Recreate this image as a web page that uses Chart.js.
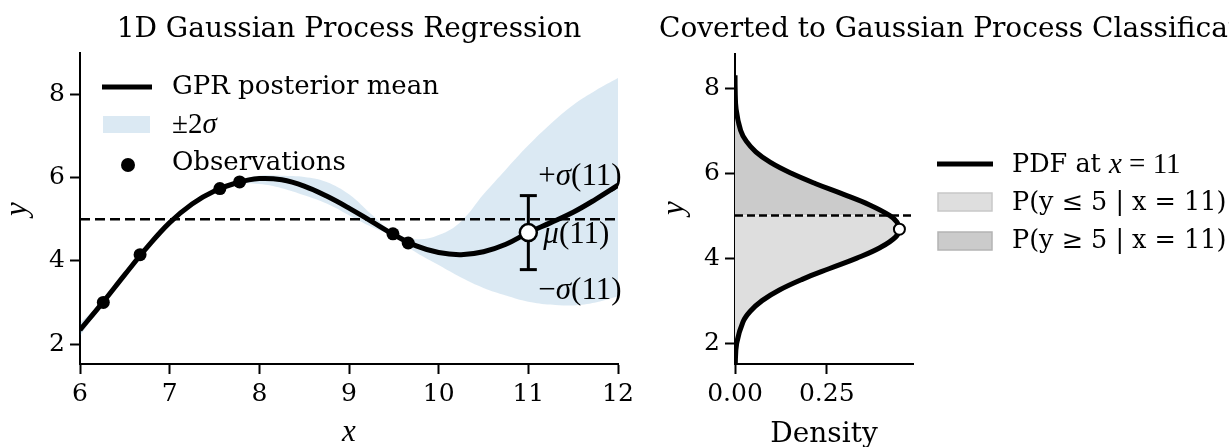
<!DOCTYPE html>
<html>
<head>
<meta charset="utf-8">
<script src="https://cdn.jsdelivr.net/npm/chart.js@4.4.1/dist/chart.umd.min.js"></script>
<style>
  body { margin: 0; background: #fff; }
  #wrap { position: relative; width: 1229px; height: 447px; overflow: hidden; }
  #gpr { position: absolute; left: 0; top: 0; }
  #pdf { position: absolute; left: 640px; top: 0; }
</style>
</head>
<body>
<div id="wrap">
  <canvas id="gpr" width="640" height="447"></canvas>
  <canvas id="pdf" width="589" height="447"></canvas>
</div>
<script>
// values
const gridX     = [6.0, 6.25, 6.5, 6.75, 7.0, 7.25, 7.5, 7.75, 8.0, 8.25, 8.5, 8.75, 9.0, 9.25, 9.5, 9.75, 10.0, 10.25, 10.5, 10.75, 11.0, 11.25, 11.5, 11.75, 12.0];
const meanY     = [2.34, 2.99, 3.67, 4.33, 4.92, 5.37, 5.68, 5.88, 5.98, 5.95, 5.80, 5.56, 5.27, 4.95, 4.63, 4.36, 4.20, 4.15, 4.22, 4.40, 4.68, 4.92, 5.17, 5.48, 5.82];
const bandLower = [2.20, 2.94, 3.62, 4.28, 4.87, 5.32, 5.63, 5.84, 5.85, 5.75, 5.58, 5.38, 5.10, 4.82, 4.58, 4.20, 3.90, 3.60, 3.35, 3.17, 3.02, 2.95, 2.93, 3.00, 3.15];
const bandUpper = [2.50, 3.04, 3.72, 4.38, 4.97, 5.42, 5.73, 5.93, 6.05, 6.05, 6.02, 5.90, 5.60, 5.12, 4.68, 4.52, 4.62, 4.95, 5.60, 6.20, 6.78, 7.30, 7.75, 8.10, 8.40];
const obsX = [6.26, 6.67, 7.56, 7.78, 9.49, 9.66];
const obsY = [3.00, 4.15, 5.74, 5.90, 4.65, 4.43];
const queryX = 11;
const queryMu = 4.68;
const querySigma = 0.89;
const threshold = 5;
const gprXTicks = [6, 7, 8, 9, 10, 11, 12];
const yTicks = [2, 4, 6, 8];

const pdfY       = [1.1, 1.5, 2.0, 2.5, 2.75, 3.0, 3.25, 3.5, 3.75, 4.0, 4.25, 4.5, 4.69, 4.85, 5.0, 5.25, 5.5, 5.75, 6.0, 6.25, 6.5, 6.75, 7.0, 7.5, 8.0, 8.3];
const pdfDensity = [0.0001, 0.0007, 0.0047, 0.0217, 0.0416, 0.0738, 0.121, 0.183, 0.256, 0.332, 0.396, 0.438, 0.448, 0.441, 0.422, 0.367, 0.296, 0.220, 0.152, 0.0965, 0.0566, 0.0307, 0.0154, 0.0031, 0.0004, 0.0001];
const densityTicks = [0, 0.25];
const densityTickLabels = ['0.00', '0.25'];

const SERIF = '"DejaVu Serif", serif';
const MATHF = '"Liberation Serif", serif';
const F_TITLE = '28px ' + SERIF;
const F_LEG = '26px ' + SERIF;
const F_LEG2 = '25.5px ' + SERIF;
const F_LEG_MI = 'italic 29px ' + MATHF;
const F_LEG_MR = '29px ' + MATHF;
const F_ANN_MI = 'italic 31px ' + MATHF;
const F_ANN_MR = '31px ' + MATHF;
const F_AXIS_MI = 'italic 31px ' + MATHF;
const BAND = 'rgba(31, 119, 180, 0.16)';
const LIGHT = 'rgb(222, 222, 222)';
const DARK = 'rgb(203, 203, 203)';

// draws a line of text made of runs in different fonts
function drawRuns(ctx, runs, x, y, align) {
  let total = 0;
  runs.forEach(r => { ctx.font = r[1]; total += ctx.measureText(r[0]).width; });
  let cx = align === 'center' ? x - total / 2 : x;
  ctx.textAlign = 'left';
  ctx.textBaseline = 'middle';
  runs.forEach(r => {
    ctx.font = r[1];
    ctx.fillText(r[0], cx, y);
    cx += ctx.measureText(r[0]).width;
  });
}

function axisOpts(min, max, ticks, size, isX) {
  return {
    type: 'linear', min: min, max: max,
    afterBuildTicks: s => { s.ticks = ticks.map(v => ({ value: v })); },
    afterFit: s => { if (isX) s.height = size; else s.width = size; },
    grid: { drawOnChartArea: false, drawTicks: true, tickLength: 10, tickWidth: 2, tickColor: '#000' },
    border: { display: true, color: '#000', width: 2 },
    ticks: { color: '#000', font: { family: 'DejaVu Serif', size: 25 }, padding: isX ? 5 : 5, maxRotation: 0, autoSkip: false }
  };
}

const pts = (xs, ys) => xs.map((x, i) => ({ x: x, y: ys[i] }));

// ---------- left: GPR ----------
const gprText = {
  id: 'gprText',
  afterDatasetsDraw(chart) {
    const { ctx, chartArea: a, scales: { x, y } } = chart;
    ctx.save();
    ctx.fillStyle = '#000';
    drawRuns(ctx, [['1D Gaussian Process Regression', F_TITLE]], (a.left + a.right) / 2, 30, 'center');
    drawRuns(ctx, [['x', F_AXIS_MI]], (a.left + a.right) / 2, 433, 'center');

    // annotations at x = 11
    const px = x.getPixelForValue(queryX);
    drawRuns(ctx, [['+', F_ANN_MR], ['σ', F_ANN_MI], ['(11)', F_ANN_MR]], px + 10, y.getPixelForValue(queryMu + querySigma) - 19, 'left');
    drawRuns(ctx, [['μ', F_ANN_MI], ['(11)', F_ANN_MR]], px + 15, y.getPixelForValue(queryMu) + 2, 'left');
    drawRuns(ctx, [['−', F_ANN_MR], ['σ', F_ANN_MI], ['(11)', F_ANN_MR]], px + 10, y.getPixelForValue(queryMu - querySigma) + 21, 'left');

    // legend
    ctx.strokeStyle = '#000';
    ctx.lineWidth = 5;
    ctx.beginPath(); ctx.moveTo(102, 87); ctx.lineTo(152, 87); ctx.stroke();
    ctx.fillStyle = BAND;
    ctx.fillRect(103, 116, 47, 17);
    ctx.fillStyle = '#000';
    ctx.beginPath(); ctx.arc(128, 165, 7, 0, Math.PI * 2); ctx.fill();
    drawRuns(ctx, [['GPR posterior mean', F_LEG]], 172, 87, 'left');
    drawRuns(ctx, [['±2', F_LEG_MR], ['σ', F_LEG_MI]], 172, 125, 'left');
    drawRuns(ctx, [['Observations', F_LEG]], 172, 163, 'left');

    ctx.translate(18, 209);
    ctx.rotate(-Math.PI / 2);
    drawRuns(ctx, [['y', F_AXIS_MI]], 0, 0, 'center');
    ctx.restore();
  }
};

new Chart(document.getElementById('gpr'), {
  type: 'line',
  data: {
    datasets: [
      { data: pts(gridX, bandLower), borderWidth: 0, pointRadius: 0, tension: 0.4, fill: false, order: 6 },
      { data: pts(gridX, bandUpper), borderWidth: 0, pointRadius: 0, tension: 0.4, fill: 0, backgroundColor: BAND, order: 5 },
      { data: [{ x: gprXTicks[0], y: threshold }, { x: gprXTicks[gprXTicks.length - 1], y: threshold }],
        borderColor: '#000', borderWidth: 2.5, borderDash: [10, 5], pointRadius: 0, order: 4 },
      { data: pts(gridX, meanY), borderColor: '#000', borderWidth: 5, pointRadius: 0, tension: 0.4, order: 3 },
      { data: pts(obsX, obsY), showLine: false, pointRadius: 6.5, pointBackgroundColor: '#000', pointBorderWidth: 0, order: 2 },
      { data: [{ x: queryX, y: queryMu - querySigma }, { x: queryX, y: queryMu + querySigma }],
        borderColor: '#000', borderWidth: 3, pointStyle: 'line', pointRadius: 8.5, pointBorderWidth: 3, pointBorderColor: '#000', order: 1 },
      { data: [{ x: queryX, y: queryMu }], showLine: false, pointRadius: 8.5, pointBackgroundColor: '#fff',
        pointBorderColor: '#000', pointBorderWidth: 2.5, order: 0 }
    ]
  },
  options: {
    responsive: false,
    animation: false,
    events: [],
    layout: { padding: { left: 0, top: 53, right: 22, bottom: 0 } },
    plugins: { legend: { display: false }, tooltip: { enabled: false } },
    scales: {
      x: axisOpts(6, 12, gprXTicks, 83, true),
      y: axisOpts(1.52, 9.0, yTicks, 80, false)
    }
  },
  plugins: [gprText]
});

// ---------- right: PDF at x = 11 ----------
const pdfPts = pts(pdfDensity, pdfY);
const below = pdfPts.filter(p => p.y <= threshold);
const above = pdfPts.filter(p => p.y >= threshold);

const pdfText = {
  id: 'pdfText',
  afterDatasetsDraw(chart) {
    const { ctx, chartArea: a } = chart;
    ctx.save();
    ctx.fillStyle = '#000';
    drawRuns(ctx, [['Coverted to Gaussian Process Classification', F_TITLE]], 19, 30, 'left');
    drawRuns(ctx, [['Density', F_TITLE]], (a.left + a.right) / 2, 435, 'center');

    // legend
    ctx.strokeStyle = '#000';
    ctx.lineWidth = 5;
    ctx.beginPath(); ctx.moveTo(297, 164); ctx.lineTo(353, 164); ctx.stroke();
    ctx.lineWidth = 1.5;
    ctx.fillStyle = LIGHT; ctx.strokeStyle = 'rgb(200, 200, 200)';
    ctx.fillRect(298, 193, 54, 18); ctx.strokeRect(298, 193, 54, 18);
    ctx.fillStyle = DARK; ctx.strokeStyle = 'rgb(180, 180, 180)';
    ctx.fillRect(298, 232, 54, 18); ctx.strokeRect(298, 232, 54, 18);
    ctx.fillStyle = '#000';
    drawRuns(ctx, [['PDF at ', F_LEG2], ['x', F_LEG_MI], [' = ', F_LEG_MR], ['11', F_LEG_MR]], 372, 165, 'left');
    drawRuns(ctx, [['P(y ≤ 5 | x = 11)', F_LEG2]], 372, 203, 'left');
    drawRuns(ctx, [['P(y ≥ 5 | x = 11)', F_LEG2]], 372, 241, 'left');

    ctx.translate(35, 208);
    ctx.rotate(-Math.PI / 2);
    drawRuns(ctx, [['y', F_AXIS_MI]], 0, 0, 'center');
    ctx.restore();
  }
};

const densityAxis = axisOpts(0, 0.485, densityTicks, 83, true);
densityAxis.ticks.callback = (v, i) => densityTickLabels[i];

new Chart(document.getElementById('pdf'), {
  type: 'line',
  data: {
    datasets: [
      { data: below, fill: 'origin', backgroundColor: LIGHT, borderWidth: 0, pointRadius: 0, tension: 0.4, order: 5 },
      { data: above, fill: 'origin', backgroundColor: DARK, borderWidth: 0, pointRadius: 0, tension: 0.4, order: 4 },
      { data: [{ x: densityTicks[0], y: threshold }, { x: 0.485, y: threshold }],
        borderColor: '#000', borderWidth: 2.5, borderDash: [8, 4], pointRadius: 0, order: 3 },
      { data: pdfPts, borderColor: '#000', borderWidth: 5, pointRadius: 0, tension: 0.4, fill: false, order: 2 },
      { data: [{ x: 0.448, y: queryMu }], showLine: false, pointRadius: 5.5, pointBackgroundColor: '#fff',
        pointBorderColor: '#000', pointBorderWidth: 2, order: 0 }
    ]
  },
  options: {
    responsive: false,
    animation: false,
    events: [],
    indexAxis: 'y',
    layout: { padding: { left: 0, top: 54, right: 316, bottom: 0 } },
    plugins: { legend: { display: false }, tooltip: { enabled: false } },
    scales: {
      x: densityAxis,
      y: axisOpts(1.51, 8.8, yTicks, 95, false)
    }
  },
  plugins: [pdfText]
});
</script>
</body>
</html>
